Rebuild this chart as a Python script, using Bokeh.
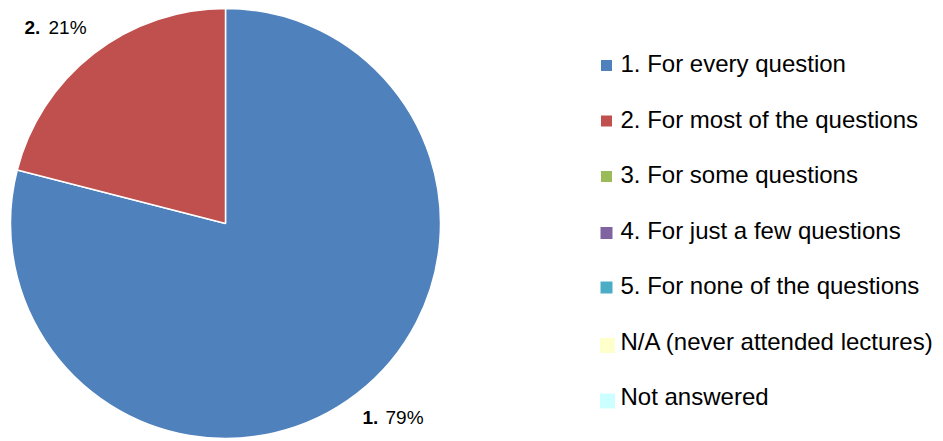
import math
from bokeh.plotting import figure
from bokeh.models import ColumnDataSource, Range1d
from bokeh.core.properties import value
from bokeh.embed import file_html
from bokeh.resources import INLINE

# ---- data ----
categories = [
    "1. For every question",
    "2. For most of the questions",
    "3. For some questions",
    "4. For just a few questions",
    "5. For none of the questions",
    "N/A (never attended lectures)",
    "Not answered",
]
short_labels = ["1.", "2.", "3.", "4.", "5.", "N/A", "NA"]
percent = [79, 21, 0, 0, 0, 0, 0]
colors = ["#4F81BD", "#C0504D", "#9BBB59", "#8064A2", "#4BACC6", "#FFFFCC", "#CCFFFF"]

W, H = 943, 441

def px(ix):
    return ix

def py(iy):
    return H - iy

TXT_SHIFT = 8  # correction of rendered text baseline

p = figure(width=W, height=H, output_backend="svg", toolbar_location=None,
           x_range=Range1d(0, W), y_range=Range1d(0, H),
           x_axis_type=None, y_axis_type=None, min_border=0)
p.outline_line_color = None
p.xgrid.visible = False
p.ygrid.visible = False
p.background_fill_color = "white"

# ---- pie ----
cx, cy, r = px(225), py(223), 215
total = sum(percent)
starts, ends, wcols = [], [], []
cum = 0.0
for v, c in zip(percent, colors):
    if v <= 0:
        continue
    a_end = math.radians(90 - 360 * cum / total)
    cum += v
    a_start = math.radians(90 - 360 * cum / total)
    starts.append(a_start)
    ends.append(a_end)
    wcols.append(c)
src = ColumnDataSource(dict(start=starts, end=ends, color=wcols))
p.wedge(x=cx, y=cy, radius=r, start_angle="start", end_angle="end",
        direction="anticlock", fill_color="color",
        line_color="white", line_width=1.5, source=src)

# ---- data labels (bold number + percent) ----
lab_num_x = [px(362), px(24)]
lab_pct_x = [px(385), px(48)]
lab_y = [py(425 - TXT_SHIFT), py(35 - TXT_SHIFT)]
nz = [i for i, v in enumerate(percent) if v > 0]
p.text(x=lab_num_x, y=lab_y, text=[short_labels[i] for i in nz],
       text_font=value("Liberation Sans"), text_font_size="19px",
       text_font_style="bold", text_baseline="alphabetic", text_align="left",
       text_color="black")
p.text(x=lab_pct_x, y=lab_y, text=[f"{percent[i]}%" for i in nz],
       text_font=value("Liberation Sans"), text_font_size="19px",
       text_baseline="alphabetic", text_align="left", text_color="black")

# ---- legend ----
baselines = [71 + 55.5 * i for i in range(len(categories))]
sq_size = [11, 11, 11, 12, 12, 15, 15]
sq_off = [6, 6, 6, 5, 6, 3.5, 3.5]
sq_x = [px(606) if s < 13 else px(607) for s in sq_size]
p.rect(x=sq_x, y=[py(b - o) for b, o in zip(baselines, sq_off)],
       width=sq_size, height=sq_size, width_units="screen", height_units="screen",
       fill_color=colors, line_color=None)
p.text(x=[px(620)] * len(categories), y=[py(b - TXT_SHIFT) for b in baselines],
       text=categories,
       text_font=value("Liberation Sans"), text_font_size="24px",
       text_baseline="alphabetic", text_align="left", text_color="black")

open("out.html", "w").write(file_html(p, INLINE))
